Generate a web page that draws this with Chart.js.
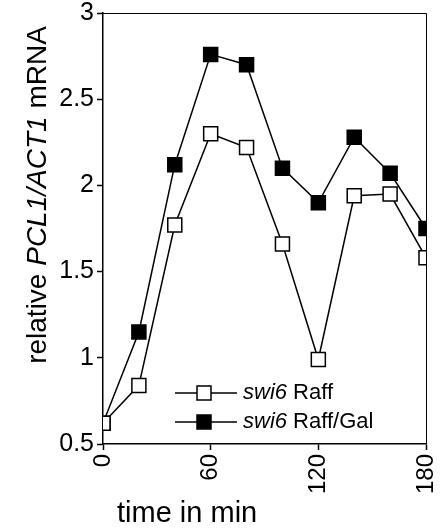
<!DOCTYPE html>
<html>
<head>
<meta charset="utf-8">
<script src="https://cdn.jsdelivr.net/npm/chart.js@4.4.1/dist/chart.umd.min.js"></script>
<style>
html, body { margin: 0; padding: 0; background: #fff; }
</style>
</head>
<body>
<canvas id="myChart" width="447" height="528"></canvas>
<script>
// dados
var tempos = [0, 20, 40, 60, 80, 100, 120, 140, 160, 180];
var swi6Raff = [0.62, 0.84, 1.77, 2.30, 2.22, 1.66, 0.99, 1.94, 1.95, 1.58];
var swi6RaffGal = [0.62, 1.15, 2.12, 2.76, 2.70, 2.10, 1.90, 2.28, 2.07, 1.75];
var ticksX = [0, 60, 120, 180];
var ticksY = [0.5, 1, 1.5, 2, 2.5, 3];
var nomes = [["swi6", " Raff"], ["swi6", " Raff/Gal"]];

var fonte = "'Liberation Sans', Arial, sans-serif";

function pontos(ys) {
    var arr = [];
    for (var i = 0; i < tempos.length; i++) {
        arr.push({ x: tempos[i], y: ys[i] });
    }
    return arr;
}

var moldura = {
    id: 'moldura',
    afterDraw: function (chart) {
        var ctx = chart.ctx;
        var a = chart.chartArea;
        ctx.save();
        // borda de cima e da direita
        ctx.strokeStyle = '#000';
        ctx.lineWidth = 1;
        ctx.beginPath();
        ctx.moveTo(a.left, a.top + 0.5);
        ctx.lineTo(a.right + 0.5, a.top + 0.5);
        ctx.lineTo(a.right + 0.5, a.bottom);
        ctx.stroke();

        // legenda
        var linhas = [a.top + 380, a.top + 409];
        for (var i = 0; i < 2; i++) {
            var ds = chart.data.datasets[i];
            var y = linhas[i];
            ctx.strokeStyle = '#000';
            ctx.lineWidth = 1.5;
            ctx.beginPath();
            ctx.moveTo(175, y);
            ctx.lineTo(237, y);
            ctx.stroke();
            ctx.fillStyle = ds.pointBackgroundColor;
            ctx.fillRect(197, y - 7, 14, 14);
            ctx.strokeRect(197, y - 7, 14, 14);
            ctx.fillStyle = '#000';
            ctx.textBaseline = 'middle';
            ctx.textAlign = 'left';
            ctx.font = 'italic 22px ' + fonte;
            ctx.fillText(nomes[i][0], 243, y);
            var w = ctx.measureText(nomes[i][0]).width;
            ctx.font = '22px ' + fonte;
            ctx.fillText(nomes[i][1], 243 + w, y);
        }

        // titulo do eixo y
        var partes = [["relative ", ''], ["PCL1/ACT1", 'italic '], [" mRNA", '']];
        ctx.translate(38, a.top + 182);
        ctx.rotate(-Math.PI / 2);
        var total = 0;
        partes.forEach(function (p) {
            ctx.font = p[1] + '28px ' + fonte;
            total += ctx.measureText(p[0]).width;
        });
        var x = -total / 2;
        ctx.textBaseline = 'middle';
        partes.forEach(function (p) {
            ctx.font = p[1] + '28px ' + fonte;
            ctx.fillText(p[0], x, 0);
            x += ctx.measureText(p[0]).width;
        });
        ctx.restore();

        // titulo do eixo x
        ctx.save();
        ctx.fillStyle = '#000';
        ctx.font = '29px ' + fonte;
        ctx.textBaseline = 'alphabetic';
        ctx.textAlign = 'left';
        ctx.fillText('time in min', 117, 522);
        ctx.restore();
    }
};

var ctx = document.getElementById("myChart").getContext("2d");
var dados = {
    type: 'line',
    data: {
        datasets: [
            {
                label: "swi6 Raff",
                data: pontos(swi6Raff),
                borderColor: '#000',
                borderWidth: 1.5,
                pointStyle: 'rect',
                pointRadius: 9.9,
                pointBorderWidth: 1.5,
                pointBorderColor: '#000',
                pointBackgroundColor: '#fff',
                tension: 0
            },
            {
                label: "swi6 Raff/Gal",
                data: pontos(swi6RaffGal),
                borderColor: '#000',
                borderWidth: 1.5,
                pointStyle: 'rect',
                pointRadius: 9.9,
                pointBorderWidth: 1.5,
                pointBorderColor: '#000',
                pointBackgroundColor: '#000',
                tension: 0
            }
        ]
    },
    options: {
        responsive: false,
        animation: false,
        layout: { padding: { left: 0, top: 13, right: 21, bottom: 0 } },
        plugins: {
            legend: { display: false },
            tooltip: { enabled: false }
        },
        scales: {
            x: {
                type: 'linear',
                min: 0,
                max: 180,
                afterBuildTicks: function (scale) {
                    scale.ticks = ticksX.map(function (v) { return { value: v }; });
                },
                afterFit: function (scale) {
                    scale.height = 84;
                    scale.paddingLeft = 0;
                    scale.paddingRight = 0;
                },
                ticks: {
                    color: '#000',
                    font: { family: fonte, size: 24 },
                    minRotation: 90,
                    maxRotation: 90,
                    padding: 4
                },
                grid: { drawOnChartArea: false, tickLength: 6, tickColor: '#000', tickWidth: 1.5 },
                border: { color: '#000', width: 1.5 }
            },
            y: {
                min: 0.5,
                max: 3,
                afterBuildTicks: function (scale) {
                    scale.ticks = ticksY.map(function (v) { return { value: v }; });
                },
                afterFit: function (scale) {
                    scale.width = 103;
                    scale.paddingTop = 0;
                    scale.paddingBottom = 0;
                },
                ticks: {
                    color: '#000',
                    font: { family: fonte, size: 25 },
                    padding: 3,
                    callback: function (v) { return String(v); }
                },
                grid: { drawOnChartArea: false, tickLength: 6, tickColor: '#000', tickWidth: 1.5 },
                border: { color: '#000', width: 1.5 }
            }
        }
    },
    plugins: [moldura]
};
var myLineChart = new Chart(ctx, dados);
</script>
</body>
</html>
